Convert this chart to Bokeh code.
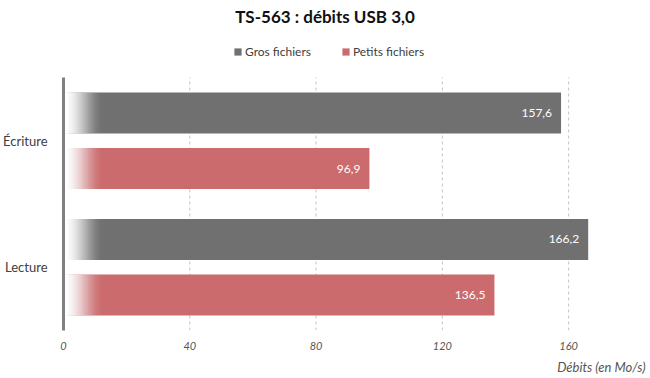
from bokeh.plotting import figure
from bokeh.models import (ColumnDataSource, Range1d, FixedTicker,
                          Title, Label, Legend, LegendItem)
from bokeh.core.properties import value
from bokeh.embed import file_html
from bokeh.resources import INLINE

# ---- data ----
categories = ["Écriture", "Lecture"]
series_names = ["Gros fichiers", "Petits fichiers"]
gros_fichiers = [157.6, 166.2]
petits_fichiers = [96.9, 136.5]
x_ticks = [0, 40, 80, 120, 160]
title_text = "TS-563 : débits USB 3,0"
x_title = "Débits (en Mo/s)"

# ---- style ----
colors = ["#707070", "#cc6b6e"]
FONT = "Lato"
W, H = 650, 378
L, R, B = 62, 10, 48
FW, FH = W - L - R, H - B          # frame spans full height above the x axis
AREA_TOP = 77                      # pixel top of the bar area
px_per_unit = 3.1625
x_max = FW / px_per_unit
n_cat = len(categories)
y_max = n_cat * FH / (FH - AREA_TOP)
offsets = [0.22, -0.22]
bar_h = 0.324

# category centre positions (first category at top)
cat_pos = [n_cat - i - 0.5 for i in range(n_cat)]

p = figure(width=W, height=H,
           y_range=Range1d(0, y_max), x_range=Range1d(0, x_max),
           output_backend="svg", toolbar_location=None,
           min_border_left=L, min_border_right=R, min_border_top=0, min_border_bottom=B)
p.outline_line_color = None
p.background_fill_color = "white"
p.border_fill_color = "white"
p.grid.visible = False

# dashed vertical grid lines inside the bar area
gx = [t for t in x_ticks if t > 0]
p.segment(x0=gx, x1=gx, y0=[0] * len(gx), y1=[n_cat] * len(gx),
          line_color="#c4c4c4", line_dash="3 3", line_width=1)

# x axis
p.xaxis.ticker = FixedTicker(ticks=x_ticks)
p.xaxis.axis_line_color = None
p.xaxis.major_tick_line_color = None
p.xaxis.minor_tick_line_color = None
p.xaxis.major_label_text_font = FONT
p.xaxis.major_label_text_font_style = "italic"
p.xaxis.major_label_text_font_size = "11px"
p.xaxis.major_label_text_color = "#555555"
p.xaxis.major_label_standoff = 5

# y axis
p.yaxis.ticker = FixedTicker(ticks=cat_pos)
p.yaxis.major_label_overrides = {pos: c for pos, c in zip(cat_pos, categories)}
p.yaxis.bounds = (0, n_cat)
p.yaxis.axis_line_color = "#808080"
p.yaxis.axis_line_width = 3
p.yaxis.major_tick_line_color = None
p.yaxis.minor_tick_line_color = None
p.yaxis.major_label_text_font = FONT
p.yaxis.major_label_text_font_size = "13px"
p.yaxis.major_label_text_color = "#404040"
p.yaxis.major_label_standoff = 10

# bars
series_vals = [gros_fichiers, petits_fichiers]
renderers = []
N = 32
fade_start, fade_len = 1.0, 12.0


def target(t):
    t = min(max(t, 0.0), 1.0)
    s = t * t * (3 - 2 * t)
    return 1 - s


for vals, off, col, name in zip(series_vals, offsets, colors, series_names):
    ys = [cp + off for cp in cat_pos]
    src = ColumnDataSource(dict(y=ys, val=vals,
                                lab=[f"{v:.1f}".replace(".", ",") for v in vals]))
    r = p.hbar(y="y", left=0, right="val", height=bar_h, source=src,
               fill_color=col, line_color=None)
    renderers.append(r)
    # white fade overlay (nested rects to avoid seams)
    edges = [fade_start + fade_len * (k + 1) / N for k in range(N)]
    Tk = [target((k + 0.5) / N) for k in range(N)]
    Tk[0] = max(Tk[0], 0.97)
    alphas = []
    for k in range(N):
        nxt = Tk[k + 1] if k + 1 < N else 0.0
        a = 1 - (1 - Tk[k]) / (1 - nxt) if nxt < 1 else 0
        alphas.append(max(min(a, 1.0), 0.0))
    ov = dict(y=[], right=[], alpha=[])
    for yy in ys:
        for k in range(N):
            ov["y"].append(yy)
            ov["right"].append(edges[k])
            ov["alpha"].append(alphas[k])
        ov["y"].append(yy)
        ov["right"].append(fade_start)
        ov["alpha"].append(0.9)
    p.hbar(y="y", left=0, right="right", height=bar_h, source=ColumnDataSource(ov),
           fill_color="white", fill_alpha="alpha", line_color=None)
    p.text(x="val", y="y", text="lab", source=src,
           x_offset=-9, text_align="right", text_baseline="middle",
           text_color="white", text_font=value(FONT), text_font_size="12px")

# legend inside the (tall) frame, above the bar area
legend = Legend(items=[LegendItem(label=n, renderers=[r]) for n, r in zip(series_names, renderers)],
                orientation="horizontal", location=(170, 271.5),
                padding=0, margin=0, spacing=30, glyph_width=9, glyph_height=9,
                label_standoff=3, label_height=14,
                label_text_font=FONT, label_text_font_size="12px",
                label_text_color="#404040",
                background_fill_alpha=0, border_line_color=None)
p.add_layout(legend, "center")

# chart title
p.add_layout(Label(x=261.5, y=FH - 16, x_units="screen", y_units="screen",
                   text=title_text, text_align="center", text_baseline="middle",
                   text_font=FONT, text_font_style="bold", text_font_size="17px",
                   text_color="#111111"))

# x axis title below, right aligned
p.add_layout(Title(text=x_title, align="right", offset=-5,
                   text_font=FONT, text_font_style="italic", text_font_size="13px",
                   text_color="#555555", standoff=8), "below")

open("out.html", "w").write(file_html(p, INLINE))
